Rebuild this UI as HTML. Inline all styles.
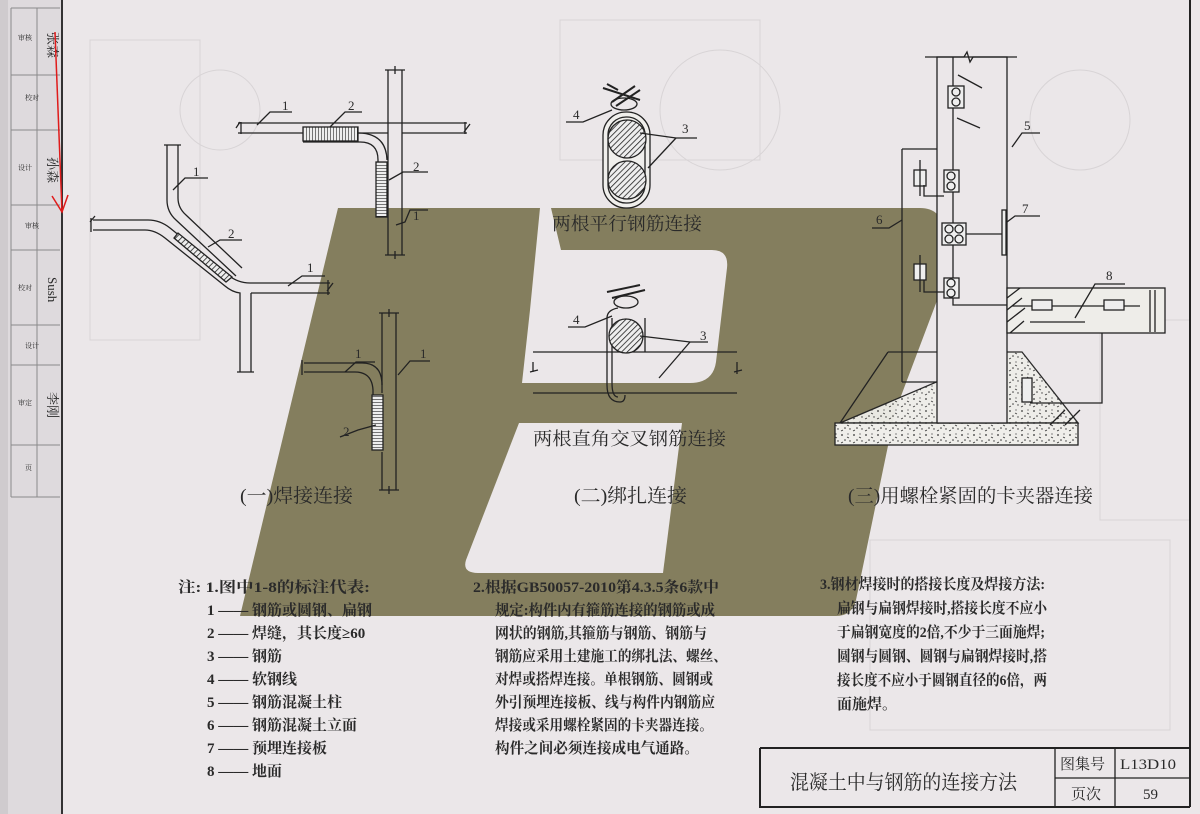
<!DOCTYPE html>
<html><head><meta charset="utf-8">
<style>
html,body{margin:0;padding:0;background:#ebe7e9;}
svg{display:block}
text{font-family:"Liberation Serif","Noto Serif CJK SC",serif;fill:#2a2a2a;}
</style></head>
<body>
<svg width="1200" height="814" viewBox="0 0 1200 814" xmlns="http://www.w3.org/2000/svg">
<defs>
<pattern id="hatch" width="4" height="4" patternUnits="userSpaceOnUse" patternTransform="rotate(45)">
<rect width="4" height="4" fill="#eee"/><line x1="0" y1="0" x2="0" y2="4" stroke="#222" stroke-width="1.6"/></pattern>
<pattern id="hh" width="3" height="10" patternUnits="userSpaceOnUse">
<rect width="3" height="10" fill="#eee"/><line x1="0" y1="0" x2="0" y2="10" stroke="#222" stroke-width="1.2"/></pattern>
<pattern id="hv" width="10" height="3" patternUnits="userSpaceOnUse">
<rect width="10" height="3" fill="#eee"/><line x1="0" y1="0" x2="10" y2="0" stroke="#222" stroke-width="1.2"/></pattern>
<pattern id="speck" width="12" height="12" patternUnits="userSpaceOnUse">
<rect width="12" height="12" fill="#efeeea"/>
<circle cx="2" cy="3" r="0.9" fill="#333"/><circle cx="8" cy="2" r="0.6" fill="#333"/>
<circle cx="5" cy="8" r="0.8" fill="#333"/><circle cx="10" cy="9" r="0.7" fill="#333"/>
<path d="M1 11 l2 -1 M7 5 l2 1" stroke="#333" stroke-width="0.7"/></pattern>
</defs>

<!-- left strip -->
<rect x="0" y="0" width="62" height="814" fill="#dedadd"/>
<rect x="0" y="0" width="8" height="814" fill="#cfcbce"/>
<g stroke="#8a8a8a" stroke-width="1" fill="none">
<line x1="11" y1="8" x2="11" y2="497"/><line x1="37" y1="8" x2="37" y2="497"/>
<line x1="11" y1="8" x2="60" y2="8"/><line x1="11" y1="75" x2="60" y2="75"/>
<line x1="11" y1="130" x2="60" y2="130"/><line x1="11" y1="205" x2="60" y2="205"/>
<line x1="11" y1="250" x2="60" y2="250"/><line x1="11" y1="325" x2="60" y2="325"/>
<line x1="11" y1="365" x2="60" y2="365"/><line x1="11" y1="445" x2="60" y2="445"/>
<line x1="11" y1="497" x2="60" y2="497"/>
</g>
<g fill="#333" font-size="13">
<text x="40" y="40" transform="rotate(90 48 40)">张森</text>
<text x="40" y="165" transform="rotate(90 48 165)">孙森</text>
<text x="40" y="285" transform="rotate(90 48 285)">Sush</text>
<text x="40" y="400" transform="rotate(90 48 400)">李刚</text>
</g>
<g fill="#999" font-size="7">
<text x="18" y="40">审核</text><text x="25" y="100">校对</text><text x="18" y="170">设计</text>
<text x="25" y="228">审核</text><text x="18" y="290">校对</text><text x="25" y="348">设计</text>
<text x="18" y="405">审定</text><text x="25" y="470">页</text></g>
<line x1="62" y1="0" x2="62" y2="814" stroke="#333" stroke-width="2"/>

<!-- faint background grid -->
<g stroke="#d8d4d6" stroke-width="1" fill="none">
<rect x="90" y="40" width="110" height="300"/><circle cx="220" cy="110" r="40"/>
<circle cx="720" cy="110" r="60"/><circle cx="1080" cy="120" r="50"/>
<rect x="1100" y="320" width="90" height="200"/><rect x="870" y="540" width="300" height="190"/>
<rect x="560" y="20" width="200" height="140"/>
</g>

<!-- olive logo -->
<path fill="#847e5e" d="M338,208 L920,208 Q942,208 944,232 L941,290 L895,412 L856,600 Q852,616 836,616 L240,616 Z"/>
<path fill="#ebe7e9" d="M540,208 L551,208 L561,250 L712,250 Q729,250 727,268 L716,362 Q713,383 690,383 L522,383 L530,310 Z"/>
<path fill="#ebe7e9" d="M519,423 L682,423 L663,573 L478,573 Q462,573 466,560 Z"/>

<!-- Drawing 1: top weld -->
<g stroke="#222" stroke-width="1.3" fill="none">
<line x1="238" y1="123" x2="467" y2="123"/><line x1="238" y1="133" x2="303" y2="133"/>
<line x1="358" y1="133" x2="388" y2="133"/><line x1="402" y1="133" x2="467" y2="133"/>
<path d="M236,128 l4,-6 M241,122 v12"/><path d="M465,122 v12 M470,124 l-6,8"/>
<line x1="388" y1="70" x2="388" y2="255"/><line x1="402" y1="70" x2="402" y2="255"/>
<path d="M385,70 h20 M395,66 v8"/><path d="M385,255 h20 M395,251 v8"/>
<path d="M303,142 H360 Q378,142 378,160 V217"/>
<path d="M358,133 Q386,133 387,160"/>
<rect x="303" y="127" width="55" height="14" fill="url(#hh)"/>
<rect x="376" y="162" width="11" height="55" fill="url(#hv)"/>
<path d="M257,125 L270,112 H292"/><path d="M330,127 L345,112 H362"/>
<path d="M389,180 L403,172 H428"/><path d="M396,225 L405,222 L410,210 H428"/>
</g>
<g font-size="13"><text x="282" y="110">1</text><text x="348" y="110">2</text><text x="413" y="171">2</text><text x="413" y="220">1</text></g>

<!-- Drawing 2: Z weld -->
<g stroke="#222" stroke-width="1.3" fill="none">
<path d="M93,220 H148 Q160,220 170,228 L228,275 Q238,283 250,283 H330"/>
<path d="M93,230 H145 Q155,230 165,238 L225,286 Q232,292 240,293 V372"/>
<path d="M251,293 V372"/><path d="M251,293 H330"/>
<path d="M167,145 V200 Q167,212 176,220 L236,276"/>
<path d="M178,145 V198 Q178,208 186,215 L242,268"/>
<path d="M91,218 v14 M95,216 l-5,6"/><path d="M164,145 h17"/><path d="M328,280 v15 M333,283 l-6,8"/><path d="M237,372 h17"/>
<path d="M178,233 l-4,5 L226,282 l6,-5 Z" fill="url(#hatch)"/>
<path d="M173,190 L185,178 H208"/><path d="M208,247 L220,240 H242"/><path d="M288,286 L302,276 H325"/>
</g>
<g font-size="13"><text x="193" y="176">1</text><text x="228" y="238">2</text><text x="307" y="272">1</text></g>

<!-- Drawing 3 -->
<g stroke="#222" stroke-width="1.3" fill="none">
<line x1="382" y1="313" x2="382" y2="393"/><line x1="396" y1="313" x2="396" y2="490"/>
<line x1="382" y1="452" x2="382" y2="490"/>
<path d="M379,313 h20 M389,309 v8"/><path d="M379,490 h20 M389,486 v8"/>
<path d="M304,363 H362 Q382,363 382,385"/><path d="M304,372 H355 Q372,372 373,390 V395"/>
<path d="M302,360 v15"/>
<rect x="372" y="395" width="11" height="55" fill="url(#hv)"/>
<path d="M345,372 L356,362 H375"/><path d="M398,375 L410,361 H430"/><path d="M340,437 L358,430 L376,425"/>
</g>
<g font-size="13"><text x="355" y="358">1</text><text x="420" y="358">1</text><text x="343" y="436">2</text></g>

<!-- Drawing 4 -->
<g stroke="#222" stroke-width="1.3" fill="none">
<rect x="603" y="112" width="47" height="96" rx="23" fill="#f0efec"/>
<rect x="608" y="117" width="37" height="86" rx="18"/>
<circle cx="627" cy="139" r="19" fill="url(#hatch)"/><circle cx="627" cy="180" r="19" fill="url(#hatch)"/>
<path d="M603,88 L640,100 M607,84 L618,90" stroke-width="2"/>
<path d="M635,86 L612,102 M640,90 L616,106" stroke-width="2"/>
<ellipse cx="624" cy="104" rx="13" ry="6"/>
<path d="M566,122 H583 L612,110"/><path d="M697,138 H676 L640,133"/><path d="M676,138 L648,168"/>
</g>
<g font-size="13"><text x="573" y="119">4</text><text x="682" y="133">3</text></g>
<text x="552" y="230" font-size="18" textLength="150" lengthAdjust="spacingAndGlyphs">两根平行钢筋连接</text>

<!-- Drawing 5 -->
<g stroke="#222" stroke-width="1.3" fill="none">
<line x1="533" y1="352" x2="737" y2="352"/><line x1="533" y1="393" x2="737" y2="393"/>
<path d="M530,372 l8,-2 M533,362 v10"/><path d="M734,372 l8,-2 M737,362 v12"/>
<path d="M607,318 V385 Q607,402 620,402 Q625,402 625,395"/>
<path d="M612,318 V383 Q612,397 618,397"/>
<circle cx="626" cy="336" r="17" fill="url(#hatch)"/>
<path d="M607,318 Q607,310 618,308 M645,318 V352"/>
<path d="M612,298 L645,290 M607,292 L640,285" stroke-width="2"/>
<ellipse cx="626" cy="302" rx="12" ry="6"/>
<path d="M568,327 H585 L612,316"/><path d="M708,342 H690 L640,336"/><path d="M690,342 L659,378"/>
</g>
<g font-size="13"><text x="573" y="324">4</text><text x="700" y="340">3</text></g>
<text x="533" y="445" font-size="18" textLength="193" lengthAdjust="spacingAndGlyphs">两根直角交叉钢筋连接</text>

<!-- Drawing 6: column -->
<g stroke="#222" stroke-width="1.3" fill="none">
<path d="M888,352 H937 M1007,352 H1022 L1078,423 H840 Z" fill="url(#speck)" opacity="0.95"/>
<rect x="835" y="423" width="243" height="22" fill="url(#speck)"/>
<rect x="937" y="57" width="70" height="366" fill="#ebe7e9"/>
<path d="M888,352 L840,423"/>
<path d="M925,57 H964 l3,-5 l3,10 l3,-5 H1017"/>
<path d="M902,149 H937 M902,149 V382 M902,382 H937"/>
<path d="M953,57 V305 H1007"/>
<rect x="948" y="86" width="16" height="22" fill="#eee"/><circle cx="956" cy="92" r="4"/><circle cx="956" cy="102" r="4"/>
<path d="M958,75 L982,88 M957,118 L980,128"/>
<rect x="944" y="170" width="15" height="22" fill="#eee"/><circle cx="951" cy="176" r="4"/><circle cx="951" cy="186" r="4"/>
<rect x="942" y="223" width="24" height="22" fill="#eee"/><circle cx="949" cy="229" r="4"/><circle cx="959" cy="229" r="4"/><circle cx="949" cy="239" r="4"/><circle cx="959" cy="239" r="4"/>
<rect x="944" y="278" width="15" height="20" fill="#eee"/><circle cx="951" cy="283" r="4"/><circle cx="951" cy="293" r="4"/>
<path d="M966,234 H1003"/><rect x="1002" y="210" width="4" height="45" fill="#eee"/>
<rect x="914" y="170" width="12" height="16" fill="#eee"/><path d="M920,160 V196 M924,185 V196 H944"/>
<rect x="914" y="264" width="12" height="16" fill="#eee"/><path d="M920,255 V292 M924,280 V292 H944"/>
<rect x="1007" y="288" width="158" height="45" fill="#eeede9"/>
<path d="M1007,298 l13,-10 M1007,310 l15,-12 M1007,322 l18,-14 M1010,333 l14,-12"/>
<path d="M1012,306 H1140 M1030,322 H1085"/>
<rect x="1032" y="300" width="20" height="10" fill="#eee"/><rect x="1104" y="300" width="20" height="10" fill="#eee"/>
<path d="M1150,290 V332 M1155,290 V332"/>
<path d="M1102,333 V403 H1030"/><rect x="1022" y="378" width="10" height="24" fill="#eee"/>
<path d="M1012,147 L1022,133 H1040"/><path d="M872,228 H889 L902,220"/><path d="M1007,222 L1015,216 H1040"/><path d="M1075,318 L1095,284 H1125"/>
<path d="M1050,425 L1065,410 M1065,425 L1080,410"/>
</g>
<g font-size="13"><text x="1024" y="130">5</text><text x="876" y="224">6</text><text x="1022" y="213">7</text><text x="1106" y="280">8</text></g>

<!-- subtitles -->
<g font-size="19">
<text x="240" y="502" textLength="113" lengthAdjust="spacingAndGlyphs">(一)焊接连接</text>
<text x="574" y="502" textLength="113" lengthAdjust="spacingAndGlyphs">(二)绑扎连接</text>
<text x="848" y="502" textLength="245" lengthAdjust="spacingAndGlyphs">(三)用螺栓紧固的卡夹器连接</text>
</g>

<!-- notes -->
<g font-size="15" font-weight="bold">
<text x="178" y="592" textLength="192" lengthAdjust="spacingAndGlyphs">注: 1.图中1-8的标注代表:</text>
<text x="207" y="615">1 —— 钢筋或圆钢、扁钢</text>
<text x="207" y="638">2 —— 焊缝，其长度≥60</text>
<text x="207" y="661">3 —— 钢筋</text>
<text x="207" y="684">4 —— 软钢线</text>
<text x="207" y="707">5 —— 钢筋混凝土柱</text>
<text x="207" y="730">6 —— 钢筋混凝土立面</text>
<text x="207" y="753">7 —— 预埋连接板</text>
<text x="207" y="776">8 —— 地面</text>

<text x="473" y="592" textLength="246" lengthAdjust="spacingAndGlyphs">2.根据GB50057-2010第4.3.5条6款中</text>
<text x="495" y="615" textLength="220" lengthAdjust="spacingAndGlyphs">规定:构件内有箍筋连接的钢筋或成</text>
<text x="495" y="638" textLength="212" lengthAdjust="spacingAndGlyphs">网状的钢筋,其箍筋与钢筋、钢筋与</text>
<text x="495" y="661" textLength="232" lengthAdjust="spacingAndGlyphs">钢筋应采用土建施工的绑扎法、螺丝、</text>
<text x="495" y="684" textLength="218" lengthAdjust="spacingAndGlyphs">对焊或搭焊连接。单根钢筋、圆钢或</text>
<text x="495" y="707" textLength="220" lengthAdjust="spacingAndGlyphs">外引预埋连接板、线与构件内钢筋应</text>
<text x="495" y="730" textLength="218" lengthAdjust="spacingAndGlyphs">焊接或采用螺栓紧固的卡夹器连接。</text>
<text x="495" y="753" textLength="204" lengthAdjust="spacingAndGlyphs">构件之间必须连接成电气通路。</text>

<text x="820" y="589" textLength="225" lengthAdjust="spacingAndGlyphs">3.钢材焊接时的搭接长度及焊接方法:</text>
<text x="837" y="613" textLength="210" lengthAdjust="spacingAndGlyphs">扁钢与扁钢焊接时,搭接长度不应小</text>
<text x="837" y="637" textLength="208" lengthAdjust="spacingAndGlyphs">于扁钢宽度的2倍,不少于三面施焊;</text>
<text x="837" y="661" textLength="210" lengthAdjust="spacingAndGlyphs">圆钢与圆钢、圆钢与扁钢焊接时,搭</text>
<text x="837" y="685" textLength="210" lengthAdjust="spacingAndGlyphs">接长度不应小于圆钢直径的6倍，两</text>
<text x="837" y="709">面施焊。</text>
</g>

<!-- title block -->
<g stroke="#222" stroke-width="2" fill="none">
<path d="M760,748 H1190 M760,748 V807 H1190 M1190,0 V807"/>
<path d="M1055,748 V807 M1115,748 V807 M1055,778 H1190" stroke-width="1.3"/>
</g>
<text x="790" y="789" font-size="20" textLength="227" lengthAdjust="spacingAndGlyphs">混凝土中与钢筋的连接方法</text>
<g font-size="15">
<text x="1060" y="769">图集号</text><text x="1120" y="769" textLength="56" lengthAdjust="spacingAndGlyphs">L13D10</text>
<text x="1071" y="799">页次</text><text x="1143" y="799">59</text>
</g>

<!-- red arrow -->
<g stroke="#e01b1b" stroke-width="1.5" fill="none">
<line x1="55" y1="32" x2="62" y2="212"/><path d="M52,196 L62,212 L68,195"/>
</g>
</svg>
</body></html>
